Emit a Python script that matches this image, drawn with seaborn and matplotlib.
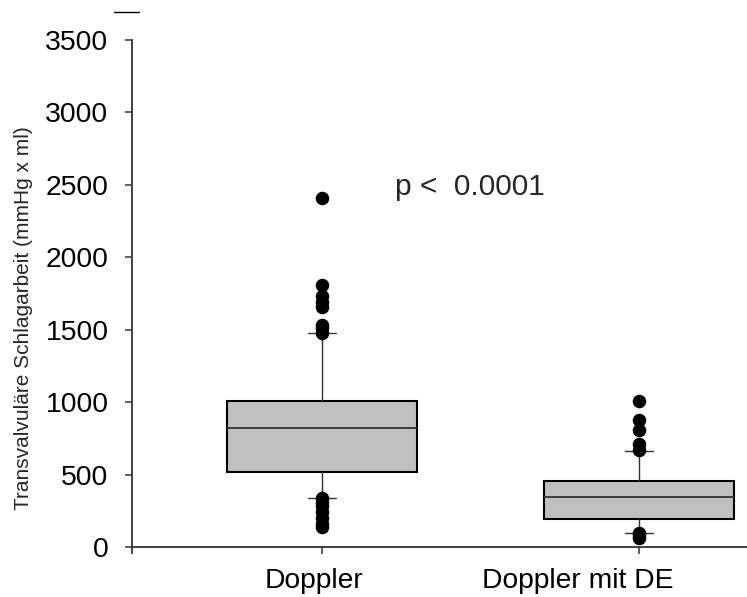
import matplotlib
matplotlib.use("Agg")
import matplotlib.pyplot as plt
import matplotlib.transforms as mtransforms
import seaborn as sns
import pandas as pd
from matplotlib.lines import Line2D

# ---- data ----
categories = ["Doppler", "Doppler mit DE"]
q1 = [520, 193]
median = [820, 347]
q3 = [1005, 455]
whisker_low = [340, 94]
whisker_high = [1479, 660]
outliers_doppler = [2410, 1810, 1730, 1690, 1660, 1530, 1510, 1480,
                    340, 310, 280, 240, 200, 160, 140]
outliers_de = [1010, 875, 805, 710, 670, 100, 85, 65]
yticks = [0, 500, 1000, 1500, 2000, 2500, 3000, 3500]
p_text = "p <  0.0001"

sns.set_theme(style="ticks")
plt.rcParams['font.family'] = ['Liberation Sans', 'DejaVu Sans']

W, H = 747, 597
fig = plt.figure(figsize=(W / 100, H / 100), dpi=100)
ax = fig.add_axes([132 / W, 1 - 553 / H, 1 - 132 / W, (553 - 40) / H])

stats = []
for i, c in enumerate(categories):
    stats.append(dict(label=c, q1=q1[i], med=median[i], q3=q3[i],
                      whislo=whisker_low[i], whishi=whisker_high[i], fliers=[]))

ax.bxp(stats, positions=[0, 1], widths=0.6, patch_artist=True, showfliers=False,
       boxprops=dict(facecolor="#c0c0c0", edgecolor="black", linewidth=1.5),
       medianprops=dict(color="#333333", linewidth=1.3),
       whiskerprops=dict(color="#333333", linewidth=1.0),
       capprops=dict(color="#333333", linewidth=1.0),
       capwidths=0.09)

df = pd.DataFrame({
    "group": [categories[0]] * len(outliers_doppler) + [categories[1]] * len(outliers_de),
    "value": outliers_doppler + outliers_de,
})
df["pos"] = df["group"].map({c: i for i, c in enumerate(categories)})
sns.scatterplot(data=df, x="pos", y="value", ax=ax, color="black", s=95,
                edgecolor="black", linewidth=0, zorder=5, legend=False)

ax.set_xlim(-0.6, 1.34)
ax.set_ylim(-41, 3500)
ax.spines["bottom"].set_position(("data", 0))
ax.set_xticks([0, 1])
ax.set_xticklabels(categories, fontsize=20.3)
ax.set_yticks(yticks)
ax.set_yticklabels([str(v) for v in yticks], fontsize=20.4)
ax.set_xlabel("")
ax.set_ylabel("")

ax.tick_params(axis="y", direction="out", length=5, width=1.1, pad=12, colors="#333333",
               labelcolor="black")
ax.tick_params(axis="x", direction="out", length=5, width=1.1, pad=10, colors="#333333",
               labelcolor="black")
for s in ["top", "right"]:
    ax.spines[s].set_visible(False)
for s in ["left", "bottom"]:
    ax.spines[s].set_linewidth(1.3)
    ax.spines[s].set_color("#333333")

# shift x tick labels as in the reference
shifts_px = [-8, -61]
for lab, dx in zip(ax.get_xticklabels(), shifts_px):
    lab.set_transform(lab.get_transform() +
                      mtransforms.ScaledTranslation(dx / 100, 0, fig.dpi_scale_trans))

fig.text(24 / W, 1 - 318.5 / H, "Transvalvuläre Schlagarbeit (mmHg x ml)",
         rotation=90, ha="center", va="center", fontsize=15)

ax.text(0.23, 2430, p_text, fontsize=21.5, va="baseline", ha="left")

fig.add_artist(Line2D([114 / W, 139 / W], [1 - 12 / H, 1 - 12 / H],
                      color="black", linewidth=1.0, transform=fig.transFigure))

fig.savefig("out.png", dpi=100)
